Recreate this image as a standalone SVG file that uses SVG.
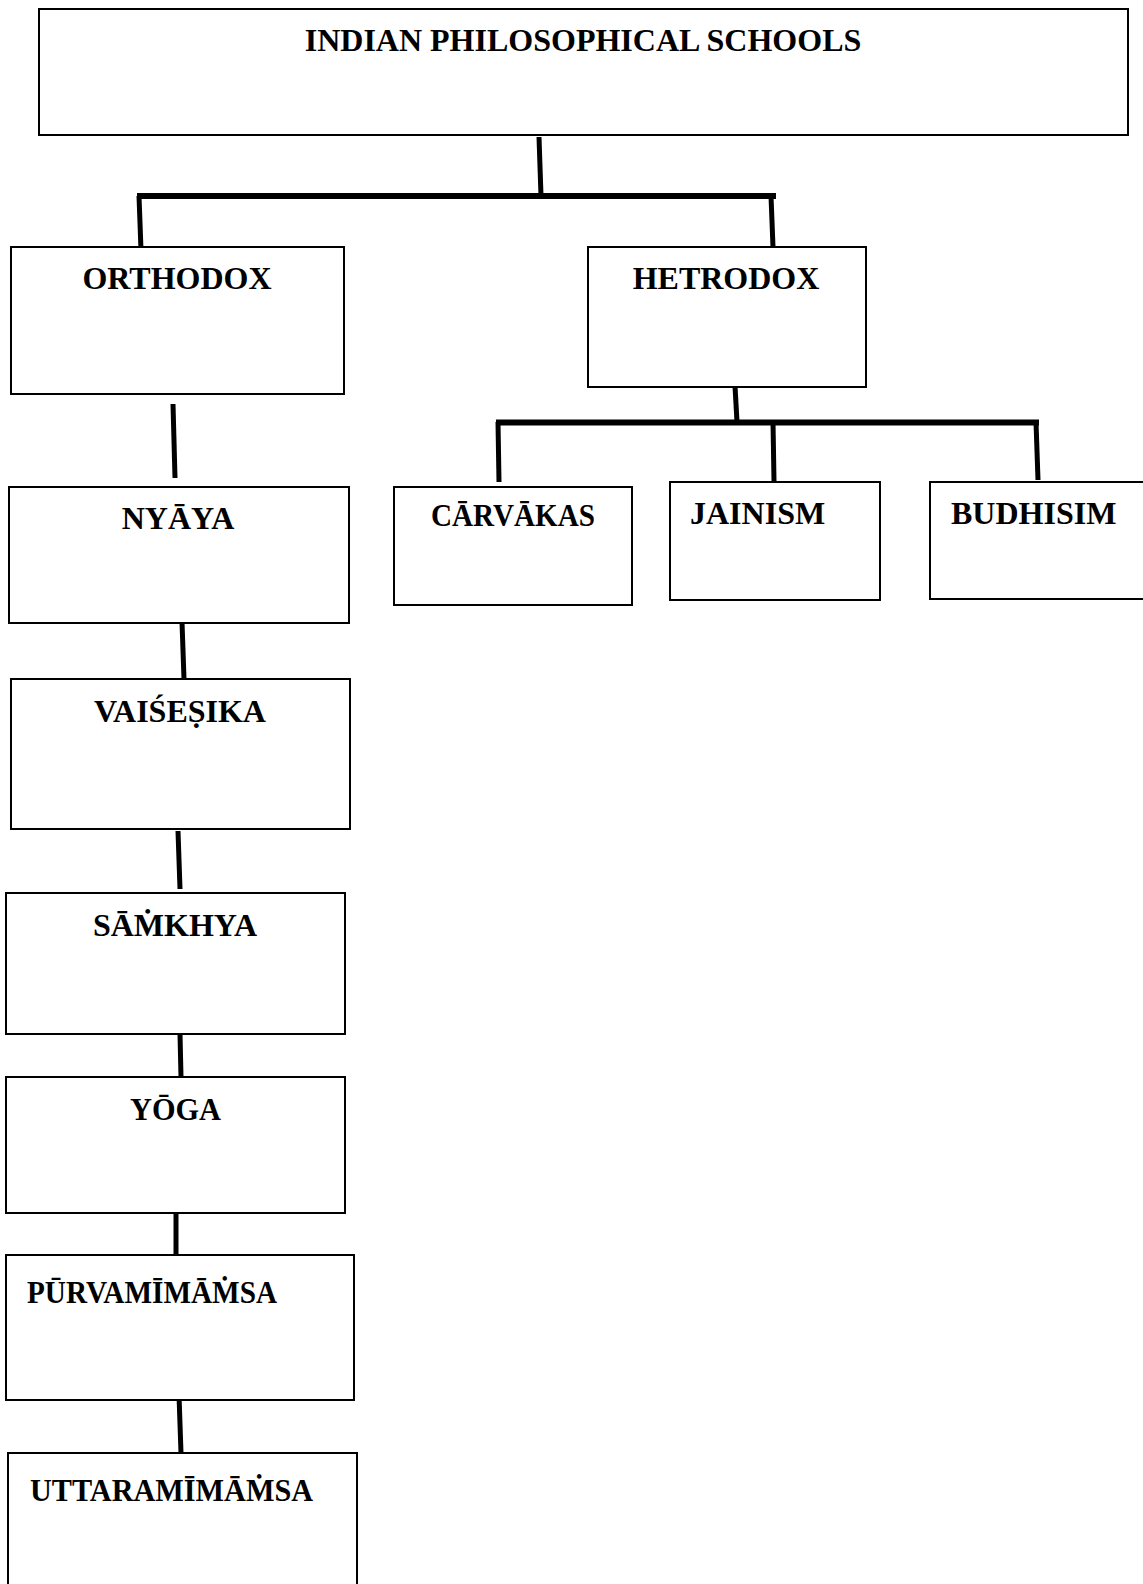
<svg xmlns="http://www.w3.org/2000/svg" width="1143" height="1584" viewBox="0 0 1143 1584">
  <style>
    .box { fill: #ffffff; stroke: #000000; stroke-width: 2; }
    .lbl { font-family: "Liberation Serif", "Times New Roman", serif; font-weight: bold; font-size: 32px; fill: #000000; }
    .mid { text-anchor: middle; }
    .conn line { stroke: #000000; stroke-width: 5; stroke-linecap: butt; }
    .conn line.bar { stroke-width: 6; }
  </style>
  <rect x="0" y="0" width="1143" height="1584" fill="#ffffff"/>

  <g id="connectors" class="conn">
    <line x1="539" y1="137" x2="541" y2="196"/>
    <line class="bar" x1="137" y1="196" x2="776" y2="196"/>
    <line x1="139" y1="196" x2="141" y2="250"/>
    <line x1="771" y1="196" x2="773" y2="247"/>
    <line x1="173" y1="404" x2="175" y2="478"/>
    <line x1="735" y1="386" x2="737" y2="422"/>
    <line class="bar" x1="496" y1="422.5" x2="1039" y2="422.5"/>
    <line x1="498" y1="422" x2="499" y2="482"/>
    <line x1="773" y1="422" x2="774" y2="481"/>
    <line x1="1036" y1="422" x2="1038" y2="480"/>
    <line x1="182" y1="622" x2="184" y2="679"/>
    <line x1="178" y1="831" x2="180" y2="889"/>
    <line x1="180" y1="1034" x2="181" y2="1077"/>
    <line x1="176" y1="1212" x2="176" y2="1254"/>
    <line x1="179" y1="1395" x2="181" y2="1453"/>
  </g>

  <g id="node-root">
    <rect class="box" x="39" y="9" width="1089" height="126"/>
    <text class="lbl mid" x="583" y="51">INDIAN PHILOSOPHICAL SCHOOLS</text>
  </g>
  <g id="node-orthodox">
    <rect class="box" x="11" y="247" width="333" height="147"/>
    <text class="lbl mid" x="177" y="289">ORTHODOX</text>
  </g>
  <g id="node-hetrodox">
    <rect class="box" x="588" y="247" width="278" height="140"/>
    <text class="lbl mid" x="726" y="289">HETRODOX</text>
  </g>
  <g id="node-nyaya">
    <rect class="box" x="9" y="487" width="340" height="136"/>
    <text class="lbl mid" x="178" y="529">NYĀYA</text>
  </g>
  <g id="node-carvakas">
    <rect class="box" x="394" y="487" width="238" height="118"/>
    <text class="lbl" x="431" y="526" textLength="164" lengthAdjust="spacingAndGlyphs">CĀRVĀKAS</text>
  </g>
  <g id="node-jainism">
    <rect class="box" x="670" y="482" width="210" height="118"/>
    <text class="lbl" x="690" y="524">JAINISM</text>
  </g>
  <g id="node-budhisim">
    <rect class="box" x="930" y="482" width="230" height="117"/>
    <text class="lbl" x="951" y="524">BUDHISIM</text>
  </g>
  <g id="node-vaisesika">
    <rect class="box" x="11" y="679" width="339" height="150"/>
    <text class="lbl mid" x="180" y="722">VAIŚEṢIKA</text>
  </g>
  <g id="node-samkhya">
    <rect class="box" x="6" y="893" width="339" height="141"/>
    <text class="lbl mid" x="175" y="936">SĀṀKHYA</text>
  </g>
  <g id="node-yoga">
    <rect class="box" x="6" y="1077" width="339" height="136"/>
    <text class="lbl" x="130" y="1120" textLength="91" lengthAdjust="spacingAndGlyphs">YŌGA</text>
  </g>
  <g id="node-purvamimamsa">
    <rect class="box" x="6" y="1255" width="348" height="145"/>
    <text class="lbl" x="27" y="1303" textLength="250" lengthAdjust="spacingAndGlyphs">PŪRVAMĪMĀṀSA</text>
  </g>
  <g id="node-uttaramimamsa">
    <rect class="box" x="8" y="1453" width="349" height="150"/>
    <text class="lbl" x="30" y="1501" textLength="283" lengthAdjust="spacingAndGlyphs">UTTARAMĪMĀṀSA</text>
  </g>
</svg>
